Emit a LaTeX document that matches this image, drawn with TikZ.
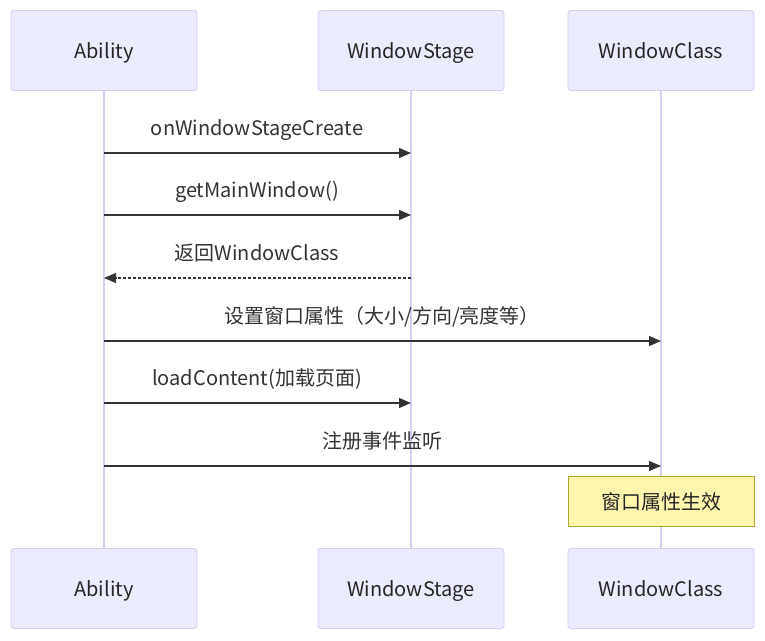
\documentclass[tikz,border=0pt]{standalone}
\usepackage{fontspec}
\setmainfont{Noto Sans CJK SC}
\usetikzlibrary{arrows.meta}

\definecolor{actorfill}{HTML}{ECECFF}
\definecolor{actorline}{HTML}{D8CCF2}
\definecolor{msgline}{HTML}{333333}
\definecolor{notefill}{HTML}{FFF5AD}
\definecolor{noteline}{HTML}{AAAA33}

\begin{document}
\begin{tikzpicture}[x=1pt,y=-1pt,
    actor/.style={draw=actorline,fill=actorfill,rounded corners=3pt,line width=0.9pt,minimum width=186pt,minimum height=80pt,text height=20pt,text depth=4pt,font=\fontsize{20}{24}\selectfont,text=black!85},
    lifeline/.style={draw=actorline,line width=1.6pt},
    msg/.style={draw=msgline,line width=1.1pt,-{Triangle[length=12pt,width=10pt]}},
    reply/.style={msg,dash pattern=on 3pt off 2pt},
    msglabel/.style={font=\fontsize{20}{24}\selectfont,text=black!80,inner sep=0pt,text height=14pt,text depth=4pt},
    note/.style={draw=noteline,fill=notefill,line width=0.8pt,minimum width=186pt,minimum height=50pt,font=\fontsize{20}{24}\selectfont,text=black!85}]
  \useasboundingbox (0,0) rectangle (765,640);
  % participants
  \node[actor] (abTop) at (104,50.5) {Ability};
  \node[actor] (wsTop) at (411,50.5) {WindowStage};
  \node[actor] (wcTop) at (661,50.5) {WindowClass};
  \node[actor] (abBot) at (104,588.5) {Ability};
  \node[actor] (wsBot) at (411,588.5) {WindowStage};
  \node[actor] (wcBot) at (661,588.5) {WindowClass};
  % lifelines
  \draw[lifeline] (abTop.south) -- (abBot.north);
  \draw[lifeline] (wsTop.south) -- (wsBot.north);
  \draw[lifeline] (wcTop.south) -- (wcBot.north);
  % message end points
  \coordinate (ab1) at (104,153);  \coordinate (ws1) at (411,153);
  \coordinate (ab2) at (104,215);  \coordinate (ws2) at (411,215);
  \coordinate (ab3) at (104,278);  \coordinate (ws3) at (411,278);
  \coordinate (ab4) at (104,341);  \coordinate (wc4) at (661,341);
  \coordinate (ab5) at (104,403);  \coordinate (ws5) at (411,403);
  \coordinate (ab6) at (104,466);  \coordinate (wc6) at (661,466);
  % messages
  \draw[msg] (ab1) -- (ws1);
  \node[msglabel] (m1) at (257,130) {onWindowStageCreate};
  \draw[msg] (ab2) -- (ws2);
  \node[msglabel] (m2) at (257,192) {getMainWindow()};
  \draw[reply] (ws3) -- (ab3);
  \node[msglabel] (m3) at (257,255) {返回WindowClass};
  \draw[msg] (ab4) -- (wc4);
  \node[msglabel] (m4) at (382,318) {设置窗口属性（大小/方向/亮度等）};
  \draw[msg] (ab5) -- (ws5);
  \node[msglabel] (m5) at (257,380) {loadContent(加载页面)};
  \draw[msg] (ab6) -- (wc6);
  \node[msglabel] (m6) at (382,443) {注册事件监听};
  % note
  \node[note] (effect) at (661,501.5) {窗口属性生效};
\end{tikzpicture}
\end{document}
